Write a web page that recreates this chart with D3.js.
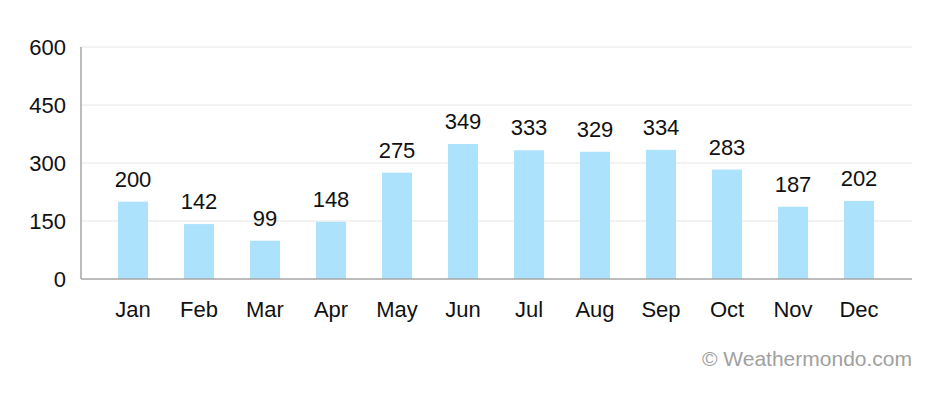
<!DOCTYPE html>
<html>
<head>
<meta charset="utf-8">
<script src="https://cdn.jsdelivr.net/npm/d3@7"></script>
<style>
  body { margin: 0; background: #fff; }
  text { font-family: "Liberation Sans", Arial, sans-serif; }
</style>
</head>
<body>
<div id="chart"></div>
<script>
var months = ["Jan", "Feb", "Mar", "Apr", "May", "Jun", "Jul", "Aug", "Sep", "Oct", "Nov", "Dec"];
var values = [200, 142, 99, 148, 275, 349, 333, 329, 334, 283, 187, 202];
var yTicks = [0, 150, 300, 450, 600];

var width = 942;
var height = 397;

var svg = d3.select("#chart")
  .append("svg")
    .attr("width", width)
    .attr("height", height);

var plotLeft = 81, plotRight = 912, plotTop = 47, plotBottom = 279;

var x = d3.scaleBand()
  .domain(months)
  .range([100, 892])
  .paddingInner(0.545)
  .paddingOuter(0.2725);

var y = d3.scaleLinear()
  .domain([0, 600])
  .range([plotBottom, plotTop]);

// gridlines
svg.append("g")
  .selectAll("line")
  .data(yTicks.slice(1))
  .enter()
  .append("line")
    .attr("x1", plotLeft)
    .attr("x2", plotRight)
    .attr("y1", d => y(d))
    .attr("y2", d => y(d))
    .attr("stroke", "#e6e6e6")
    .attr("stroke-width", 1);

// y labels
svg.append("g")
  .selectAll("text")
  .data(yTicks)
  .enter()
  .append("text")
    .attr("x", 66)
    .attr("y", d => y(d))
    .attr("dy", "0.36em")
    .attr("text-anchor", "end")
    .style("font-size", "22px")
    .style("fill", "#111")
    .text(d => d);

// bars
svg.append("g")
  .selectAll("rect")
  .data(values)
  .enter()
  .append("rect")
    .attr("x", (d, i) => x(months[i]))
    .attr("y", d => y(d))
    .attr("width", x.bandwidth())
    .attr("height", d => y(0) - y(d))
    .style("fill", "#ace2fb");

// value labels
svg.append("g")
  .selectAll("text")
  .data(values)
  .enter()
  .append("text")
    .attr("x", (d, i) => x(months[i]) + x.bandwidth() / 2)
    .attr("y", d => y(d) - 15)
    .attr("text-anchor", "middle")
    .style("font-size", "22px")
    .style("fill", "#111")
    .text(d => d);

// month labels
svg.append("g")
  .selectAll("text")
  .data(months)
  .enter()
  .append("text")
    .attr("x", d => x(d) + x.bandwidth() / 2)
    .attr("y", 317)
    .attr("text-anchor", "middle")
    .style("font-size", "22px")
    .style("fill", "#111")
    .text(d => d);

// axes lines
svg.append("line")
  .attr("x1", plotLeft).attr("x2", plotLeft)
  .attr("y1", plotTop).attr("y2", plotBottom)
  .attr("stroke", "#a6a6a6")
  .attr("stroke-width", 1.5);
svg.append("line")
  .attr("x1", plotLeft).attr("x2", plotRight)
  .attr("y1", plotBottom).attr("y2", plotBottom)
  .attr("stroke", "#a6a6a6")
  .attr("stroke-width", 1.5);

svg.append("text")
  .attr("x", plotRight)
  .attr("y", 366)
  .attr("text-anchor", "end")
  .style("font-size", "21px")
  .style("fill", "#a0a0a0")
  .text("© Weathermondo.com");
</script>
</body>
</html>
